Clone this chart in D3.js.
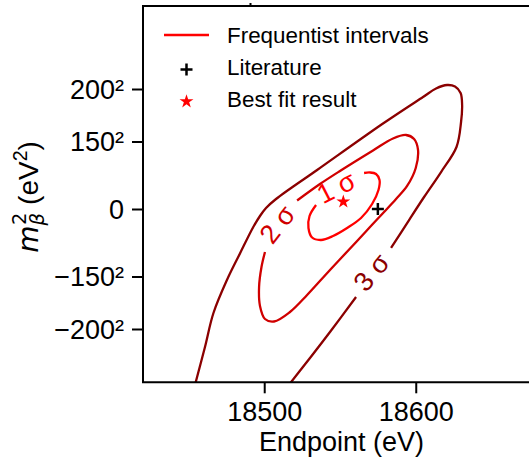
<!DOCTYPE html>
<html>
<head>
<meta charset="utf-8">
<script src="https://cdn.jsdelivr.net/npm/d3@7"></script>
<style>
  body { margin: 0; background: #fff; }
  svg { display: block; font-family: "Liberation Sans", Arial, sans-serif; }
</style>
</head>
<body>
<svg id="chart" width="529" height="458"></svg>
<script>
// axis ticks
const xTicks = [18500, 18600];
const yTicks = [40000, 22500, 0, -22500, -40000];
const yTickLabels = ["200\u00b2", "150\u00b2", "0", "\u2212150\u00b2", "\u2212200\u00b2"];

// contour lines, [endpoint eV, m^2 eV^2]
const sigma3Upper = [
  [18454.3, -58670], [18460.9, -46000], [18466.5, -34670], [18475.4, -23670],
  [18484.0, -14830], [18492.6, -6170], [18497.2, -2330], [18501.2, 330],
  [18507.8, 3330], [18534.9, 13000], [18578.4, 28500], [18604.8, 37330],
  [18613.4, 40170], [18620.7, 41330], [18625.9, 40830], [18629.6, 38670],
  [18630.6, 34670], [18629.9, 29000], [18626.9, 20670], [18616.7, 12330],
  [18605.5, 4000], [18595.6, -3670], [18583.7, -13000]
];
const sigma3Lower = [
  [18560.6, -29330], [18543.4, -41000], [18530.2, -49670], [18515.7, -59000]
];
const sigma2 = [
  [18521.7, 2830], [18536.8, 8330], [18550.0, 12670], [18571.8, 19500],
  [18585.0, 23500], [18593.6, 24670], [18598.9, 23330], [18601.5, 19670],
  [18600.0, 13670], [18594.3, 7670], [18587.0, 3330], [18579.1, -1000],
  [18569.8, -6000], [18561.3, -10670], [18543.4, -20330], [18528.3, -28670],
  [18517.0, -34330], [18506.5, -37500], [18500.5, -36670], [18497.2, -32330],
  [18496.6, -26000], [18498.2, -19330], [18500.5, -14330]
];
const sigma1 = [
  [18534.2, 1330], [18529.9, -2330], [18529.2, -6330], [18531.6, -9500],
  [18537.5, -10330], [18545.4, -9000], [18554.7, -6330], [18563.9, -3000],
  [18571.2, 1670], [18575.4, 6330], [18576.1, 9670], [18573.8, 11670],
  [18569.8, 12170], [18565.9, 12000]
];

// contour label anchors [endpoint, m^2], text, angle
const levelLabels = [
  { pos: [18547.4, 7330], text: "1 \u03c3", angle: -27, color: "#ff0000" },
  { pos: [18508.4, -5000], text: "2 \u03c3", angle: -52, color: "#d00000" },
  { pos: [18570.5, -21000], text: "3 \u03c3", angle: -50, color: "#8b0000" }
];

const bestFit = [18552.2, 2430];
const literature = [18575.0, 0];

const legendNames = ["Frequentist intervals", "Literature", "Best fit result"];

const svg = d3.select("#chart");
const margin = { left: 143, top: 6, right: 540, bottom: 382.3 };

const x = d3.scaleLinear().domain([18420, 18682]).range([margin.left, margin.right]);
const y = d3.scaleLinear().domain([-57770, 67670]).range([margin.bottom, margin.top]);

svg.append("defs").append("clipPath").attr("id", "plotClip")
  .append("rect")
  .attr("x", margin.left).attr("y", margin.top)
  .attr("width", margin.right - margin.left)
  .attr("height", margin.bottom - margin.top);

const line = d3.line()
  .x(d => x(d[0]))
  .y(d => y(d[1]))
  .curve(d3.curveCatmullRom.alpha(0.5));

const plot = svg.append("g").attr("clip-path", "url(#plotClip)");

const contours = [
  { pts: sigma3Upper, color: "#8b0000" },
  { pts: sigma3Lower, color: "#8b0000" },
  { pts: sigma2, color: "#d00000" },
  { pts: sigma1, color: "#ff0000" }
];

plot.selectAll(".contour")
  .data(contours)
  .enter()
  .append("path")
  .attr("class", "contour")
  .attr("d", d => line(d.pts))
  .attr("fill", "none")
  .attr("stroke", d => d.color)
  .attr("stroke-width", 2.3)
  .attr("stroke-linejoin", "round");

plot.selectAll(".clabel")
  .data(levelLabels)
  .enter()
  .append("text")
  .attr("class", "clabel")
  .attr("transform", d => "translate(" + x(d.pos[0]) + "," + y(d.pos[1]) + ") rotate(" + d.angle + ")")
  .attr("text-anchor", "middle")
  .attr("dy", "0.36em")
  .attr("font-size", 27)
  .attr("fill", d => d.color)
  .text(d => d.text);

// literature value and best fit
plot.append("path")
  .attr("d", "M-6,0H6M0,-6V6")
  .attr("transform", "translate(" + x(literature[0]) + "," + y(literature[1]) + ")")
  .attr("stroke", "#000")
  .attr("stroke-width", 2.5)
  .attr("fill", "none");

plot.append("path")
  .attr("d", d3.symbol().type(d3.symbolStar).size(60)())
  .attr("transform", "translate(" + x(bestFit[0]) + "," + y(bestFit[1]) + ")")
  .attr("fill", "#ff0000");

// axes
const xAxis = svg.append("g")
  .attr("transform", "translate(0," + margin.bottom + ")")
  .call(d3.axisBottom(x).tickValues(xTicks).tickSize(11).tickPadding(6).tickFormat(d3.format("d")));
xAxis.select(".domain").remove();
xAxis.selectAll(".tick line").attr("stroke", "#000").attr("stroke-width", 2);
xAxis.selectAll(".tick text")
  .attr("font-size", 27)
  .attr("font-family", "Liberation Sans, Arial, sans-serif")
  .attr("fill", "#000")
  .attr("dy", null)
  .attr("y", 38.5);

const yAxis = svg.append("g")
  .attr("transform", "translate(" + margin.left + ",0)")
  .call(d3.axisLeft(y).tickValues(yTicks).tickSize(11).tickPadding(8)
    .tickFormat((d, i) => yTickLabels[i]));
yAxis.select(".domain").remove();
yAxis.selectAll(".tick line").attr("stroke", "#000").attr("stroke-width", 2);
yAxis.selectAll(".tick text")
  .attr("font-size", 27)
  .attr("font-family", "Liberation Sans, Arial, sans-serif")
  .attr("fill", "#000")
  .attr("dy", "0.35em")
  .attr("x", -19);

// spines
svg.append("path")
  .attr("d", "M" + margin.right + "," + margin.top + "H" + margin.left + "V" + margin.bottom + "H" + margin.right + "Z")
  .attr("fill", "none")
  .attr("stroke", "#000")
  .attr("stroke-width", 2);

// small stray tick on top edge
svg.append("line")
  .attr("x1", 250.5).attr("x2", 250.5)
  .attr("y1", margin.top - 3).attr("y2", margin.top)
  .attr("stroke", "#000").attr("stroke-width", 2);

// axis labels
svg.append("text")
  .attr("x", (margin.left + margin.right) / 2)
  .attr("y", 451)
  .attr("text-anchor", "middle")
  .attr("font-size", 27)
  .text("Endpoint (eV)");

const ylab = svg.append("text")
  .attr("transform", "translate(37.5," + 197 + ") rotate(-90)")
  .attr("text-anchor", "middle")
  .attr("font-size", 28);
ylab.append("tspan").attr("font-family", "DejaVu Sans").attr("font-style", "italic").text("m");
ylab.append("tspan").attr("font-family", "DejaVu Sans").attr("font-style", "italic")
  .attr("font-size", 19.5).attr("dy", 6).text("\u03b2");
ylab.append("tspan").attr("font-family", "DejaVu Sans")
  .attr("font-size", 19.5).attr("dx", -12).attr("dy", -18).text("2");
ylab.append("tspan").attr("dy", 12).text("\u00a0(eV");
ylab.append("tspan").attr("font-size", 19.5).attr("dy", -11).text("2");
ylab.append("tspan").attr("dy", 11).text(")");

// legend
const legend = svg.append("g");
const rows = [35, 69.5, 101.5];
legend.append("line")
  .attr("x1", 164).attr("x2", 209)
  .attr("y1", rows[0]).attr("y2", rows[0])
  .attr("stroke", "#ff0000").attr("stroke-width", 2.3);
legend.append("path")
  .attr("d", "M-6,0H6M0,-6V6")
  .attr("transform", "translate(186.5," + rows[1] + ")")
  .attr("stroke", "#000").attr("stroke-width", 2.5);
legend.append("path")
  .attr("d", d3.symbol().type(d3.symbolStar).size(60)())
  .attr("transform", "translate(186.5," + rows[2] + ")")
  .attr("fill", "#ff0000");
legend.selectAll(".ltext")
  .data(legendNames)
  .enter()
  .append("text")
  .attr("class", "ltext")
  .attr("x", 227)
  .attr("y", (d, i) => [43.3, 75.3, 107][i])
  .attr("font-size", 22.4)
  .text(d => d);
</script>
</body>
</html>
